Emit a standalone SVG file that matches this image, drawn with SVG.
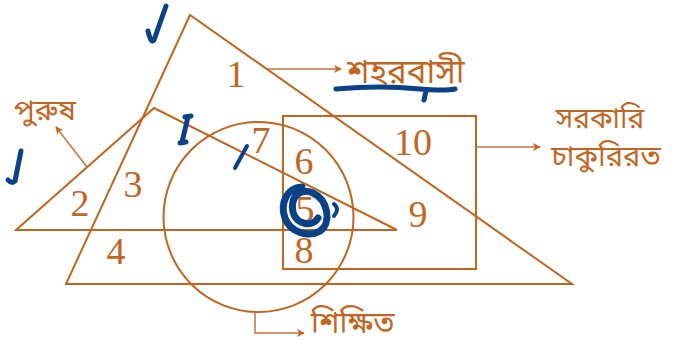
<svg xmlns="http://www.w3.org/2000/svg" width="673" height="347" viewBox="0 0 673 347">
<defs>
<style>
.ln{fill:none;stroke:#C2651F;stroke-width:2}
.cn{fill:none;stroke:#C8733A;stroke-width:1.5}
.num{font-family:"Liberation Serif",serif;font-size:38px;fill:#C2651F;text-anchor:middle}
.bn{font-family:"Noto Sans Bengali","Noto Serif Bengali","Lohit Bengali","Noto Sans",sans-serif;fill:#C2651F}
.blue{fill:none;stroke:#0B4187;stroke-linecap:round;stroke-linejoin:round}
</style>
<marker id="ah" viewBox="0 0 10 10" refX="9" refY="5" markerWidth="8" markerHeight="8" markerUnits="userSpaceOnUse" orient="auto">
<path d="M0,0 L10,5 L0,10 L3,5 Z" fill="#C2651F"/>
</marker>
</defs>
<rect width="673" height="347" fill="#fff"/>
<g id="shohorbashi">
<polygon class="ln" points="190,15 66,284 572,284"/>
</g>
<g id="purush">
<polygon class="ln" points="16,230 154,108 397,230"/>
</g>
<g id="shikkhito">
<circle class="ln" cx="258.5" cy="217" r="95"/>
</g>
<g id="sorkari">
<rect class="ln" x="283" y="116" width="193" height="153"/>
</g>
<g id="regions">
<text class="num" x="236" y="87">1</text>
<text class="num" x="80" y="216">2</text>
<text class="num" x="133" y="197">3</text>
<text class="num" x="116" y="264">4</text>
<text class="num" x="305" y="222">5</text>
<text class="num" x="304" y="174">6</text>
<text class="num" x="261" y="153">7</text>
<text class="num" x="304" y="263">8</text>
<text class="num" x="418" y="227">9</text>
<text class="num" x="413" y="155">10</text>
</g>
<g id="connectors">
<line class="cn" x1="268" y1="69" x2="341" y2="69" marker-end="url(#ah)"/>
<line class="cn" x1="87" y1="167" x2="56" y2="127" marker-end="url(#ah)"/>
<line class="cn" x1="476" y1="147" x2="540" y2="147" marker-end="url(#ah)"/>
<polyline class="cn" points="255,312 255,333 304,333" marker-end="url(#ah)"/>
</g>
<g id="labels">
<text class="bn" x="347" y="83" font-size="33">শহরবাসী</text>
<text class="bn" x="14" y="120" font-size="29">পুরুষ</text>
<text class="bn" x="600" y="128" font-size="28" text-anchor="middle">সরকারি</text>
<text class="bn" x="606" y="166" font-size="29" text-anchor="middle">চাকুরিরত</text>
<text class="bn" x="311" y="333" font-size="30">শিক্ষিত</text>
</g>
<g id="annotations">
<path class="blue" stroke-width="5" d="M166,6 L154,40 Q151,44 148,31"/>
<path class="blue" stroke-width="5" d="M21,151 L15,181 Q12,184 8,180"/>
<path class="blue" stroke-width="5" d="M185,117 L191,116 M188,117 L182,142 M180,143 L186,142"/>
<path class="blue" stroke-width="4" d="M247,146 L235,168"/>
<path class="blue" stroke-width="5" d="M336,89 Q380,85 420,89 Q445,91 455,89 M426,91 L424,100"/>
<path class="blue" stroke-width="7" d="M302,187 C286,188 280,204 285,218 C290,232 308,238 320,231 C332,223 328,200 313,193 C299,187 290,198 293,212 C296,224 312,228 318,218"/>
<path class="blue" stroke-width="4" d="M334,204 Q340,209 334,216"/>
</g>
</svg>
